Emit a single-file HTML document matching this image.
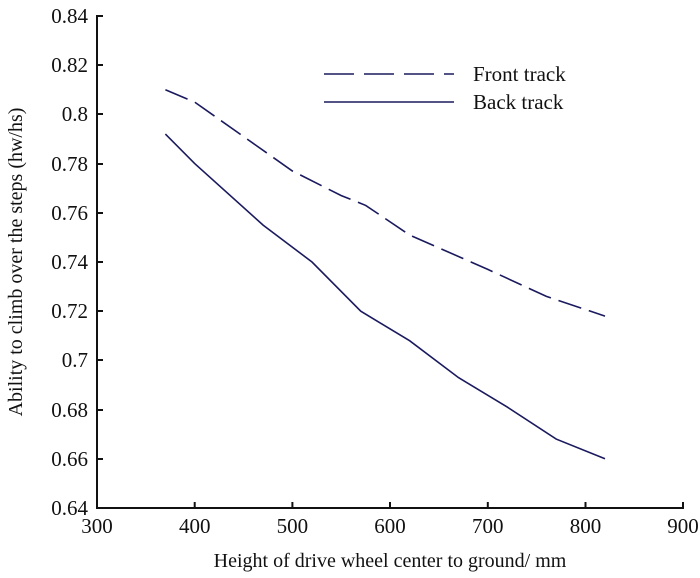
<!DOCTYPE html>
<html><head><meta charset="utf-8"><style>body{margin:0;background:#fff}svg{display:block}text{font-family:"Liberation Serif",serif;fill:#111}</style></head>
<body><svg width="700" height="578" xmlns="http://www.w3.org/2000/svg">
<g stroke="#111" stroke-width="2" fill="none">
<line x1="97" y1="15" x2="97" y2="508"/><line x1="96" y1="508" x2="684" y2="508"/>
<line x1="97" y1="16" x2="103" y2="16"/><line x1="97" y1="65" x2="103" y2="65"/><line x1="97" y1="114" x2="103" y2="114"/><line x1="97" y1="164" x2="103" y2="164"/><line x1="97" y1="213" x2="103" y2="213"/><line x1="97" y1="262" x2="103" y2="262"/><line x1="97" y1="311" x2="103" y2="311"/><line x1="97" y1="360" x2="103" y2="360"/><line x1="97" y1="410" x2="103" y2="410"/><line x1="97" y1="459" x2="103" y2="459"/>
<line x1="194.7" y1="502" x2="194.7" y2="508"/><line x1="292.4" y1="502" x2="292.4" y2="508"/><line x1="390" y1="502" x2="390" y2="508"/><line x1="487.8" y1="502" x2="487.8" y2="508"/><line x1="585.5" y1="502" x2="585.5" y2="508"/><line x1="683" y1="502" x2="683" y2="508"/>
</g>
<g font-size="21" text-anchor="end">
<text x="88" y="23">0.84</text><text x="88" y="72">0.82</text><text x="88" y="121">0.8</text><text x="88" y="171">0.78</text><text x="88" y="220">0.76</text><text x="88" y="269">0.74</text><text x="88" y="318">0.72</text><text x="88" y="367">0.7</text><text x="88" y="417">0.68</text><text x="88" y="466">0.66</text><text x="88" y="515">0.64</text>
</g>
<g font-size="21" text-anchor="middle">
<text x="97" y="533">300</text><text x="194.7" y="533">400</text><text x="292.4" y="533">500</text><text x="390" y="533">600</text><text x="487.8" y="533">700</text><text x="585.5" y="533">800</text><text x="683" y="533">900</text>
</g>
<text x="390" y="567" font-size="20" text-anchor="middle">Height of drive wheel center to ground/ mm</text>
<text transform="translate(22,262) rotate(-90)" font-size="20" text-anchor="middle">Ability to climb over the steps (hw/hs)</text>
<g stroke="#1a1a5e" stroke-width="1.6" fill="none">
<polyline stroke-dasharray="24,8" points="165.4,89.8 194.7,102.1 292.4,171 341.3,195.6 365.7,205.4 409.6,235 487.8,269.4 546.4,296.4 605,316.1"/>
<polyline points="165.4,134.1 194.7,163.6 263.1,225.1 312,262 360.8,311.2 409.6,340.7 458.5,377.6 507.3,407.1 556.2,439.1 605,458.8"/>
<line x1="324" y1="74" x2="454" y2="74" stroke-dasharray="30,10"/>
<line x1="324" y1="102" x2="454" y2="102"/>
</g>
<text x="473" y="81" font-size="21">Front track</text>
<text x="473" y="109" font-size="21">Back track</text>
</svg></body></html>
